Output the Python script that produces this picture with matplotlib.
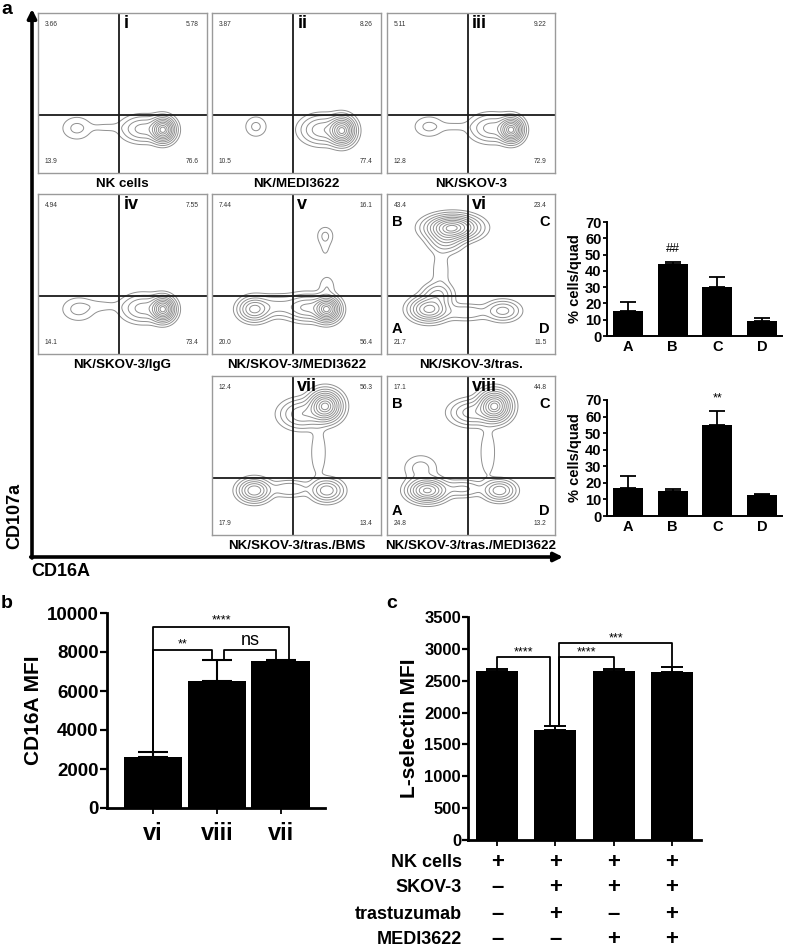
import numpy as np
import matplotlib
matplotlib.use('Agg')
import matplotlib.pyplot as plt
import matplotlib.transforms as mtrans

plt.rcParams['font.family'] = ['Liberation Sans', 'DejaVu Sans']
plt.rcParams['font.weight'] = 'bold'
plt.rcParams['axes.labelweight'] = 'bold'

W, H = 787, 951

# ---- panel a: flow plots ----
names = ['NK cells', 'NK/MEDI3622', 'NK/SKOV-3',
         'NK/SKOV-3/IgG', 'NK/SKOV-3/MEDI3622', 'NK/SKOV-3/tras.',
         'NK/SKOV-3/tras./BMS', 'NK/SKOV-3/tras./MEDI3622']
numerals = ['i', 'ii', 'iii', 'iv', 'v', 'vi', 'vii', 'viii']
# quadrant percentages: upper-left, upper-right, lower-left, lower-right
quad_pct = [['3.66', '5.78', '13.9', '76.6'],
            ['3.87', '8.26', '10.5', '77.4'],
            ['5.11', '9.22', '12.8', '72.9'],
            ['4.94', '7.55', '14.1', '73.4'],
            ['7.44', '16.1', '20.0', '56.4'],
            ['43.4', '23.4', '21.7', '11.5'],
            ['12.4', '56.3', '17.9', '13.4'],
            ['17.1', '44.8', '24.8', '13.2']]
# populations per plot: (x, y, sx, sy, weight), in plot fractions
pops = [
    [(0.74, 0.27, 0.037, 0.04, 1.0), (0.62, 0.275, 0.07, 0.045, 0.22),
     (0.23, 0.28, 0.055, 0.045, 0.065), (0.40, 0.285, 0.06, 0.02, 0.03)],
    [(0.77, 0.265, 0.04, 0.045, 1.0), (0.65, 0.27, 0.07, 0.05, 0.25),
     (0.26, 0.29, 0.04, 0.04, 0.065)],
    [(0.74, 0.27, 0.037, 0.04, 1.0), (0.62, 0.28, 0.07, 0.048, 0.22),
     (0.25, 0.29, 0.055, 0.04, 0.065), (0.40, 0.29, 0.06, 0.02, 0.03)],
    [(0.74, 0.28, 0.037, 0.04, 1.0), (0.62, 0.285, 0.07, 0.048, 0.22),
     (0.24, 0.28, 0.06, 0.045, 0.07), (0.38, 0.30, 0.07, 0.025, 0.03)],
    [(0.68, 0.28, 0.04, 0.04, 1.0), (0.56, 0.29, 0.07, 0.045, 0.3), (0.25, 0.28, 0.05, 0.04, 0.45),
     (0.38, 0.30, 0.07, 0.04, 0.12), (0.68, 0.42, 0.03, 0.045, 0.05), (0.67, 0.74, 0.03, 0.035, 0.06),
     (0.67, 0.66, 0.025, 0.05, 0.025)],
    [(0.39, 0.79, 0.08, 0.04, 1.0), (0.35, 0.72, 0.055, 0.045, 0.25), (0.32, 0.52, 0.035, 0.09, 0.045),
     (0.25, 0.28, 0.06, 0.04, 0.6), (0.30, 0.37, 0.05, 0.04, 0.2), (0.69, 0.27, 0.055, 0.035, 0.22),
     (0.47, 0.26, 0.08, 0.03, 0.1)],
    [(0.67, 0.81, 0.05, 0.05, 1.0), (0.53, 0.76, 0.07, 0.05, 0.25), (0.63, 0.52, 0.03, 0.1, 0.05),
     (0.25, 0.28, 0.05, 0.038, 0.5), (0.68, 0.28, 0.05, 0.038, 0.35), (0.46, 0.29, 0.07, 0.03, 0.1)],
    [(0.64, 0.81, 0.05, 0.05, 1.0), (0.50, 0.77, 0.07, 0.045, 0.22), (0.60, 0.52, 0.03, 0.1, 0.05),
     (0.20, 0.42, 0.06, 0.05, 0.07), (0.24, 0.28, 0.06, 0.038, 0.7), (0.67, 0.28, 0.05, 0.035, 0.35),
     (0.45, 0.29, 0.07, 0.03, 0.12)],
]
contour_levels = [0.02, 0.05, 0.1, 0.17, 0.26, 0.37, 0.5, 0.64, 0.8, 0.92]
gate_x, gate_y = 0.48, 0.36
quad_letter_plots = [5, 7]

# quadrant bar charts
quads = ['A', 'B', 'C', 'D']
quad_vi = [15.5, 44.5, 30.0, 9.0]
quad_vi_err = [5.5, 1.0, 6.5, 2.0]
quad_viii = [17.0, 15.0, 55.0, 12.5]
quad_viii_err = [7.0, 1.5, 8.5, 0.5]

# ---- panel b ----
b_groups = ['vi', 'viii', 'vii']
b_mfi = [2600, 6500, 7550]
b_err = [250, 1100, 50]

# ---- panel c ----
c_mfi = [2650, 1720, 2650, 2630]
c_err = [40, 70, 40, 80]
c_rows = ['NK cells', 'SKOV-3', 'trastuzumab', 'MEDI3622']
c_table = [['+', '+', '+', '+'],
           ['\u2013', '+', '+', '+'],
           ['\u2013', '+', '\u2013', '+'],
           ['\u2013', '\u2013', '+', '+']]

fig = plt.figure(figsize=(W / 100, H / 100), dpi=100)


def box(x0, y0, x1, y1):
    return fig.add_axes([x0 / W, 1 - y1 / H, (x1 - x0) / W, (y1 - y0) / H])


bg = box(0, 0, W, H)
bg.set_xlim(0, W)
bg.set_ylim(H, 0)
bg.axis('off')

# axis arrows
bg.annotate('', xy=(32, 9), xytext=(32, 558),
            arrowprops=dict(arrowstyle='-|>', lw=2.6, color='black', mutation_scale=13, shrinkA=0, shrinkB=0))
bg.annotate('', xy=(563, 557), xytext=(30.7, 557),
            arrowprops=dict(arrowstyle='-|>', lw=2.6, color='black', mutation_scale=13, shrinkA=0, shrinkB=0))
bg.text(15, 516, 'CD107a', rotation=90, ha='center', va='center', fontsize=13)
bg.text(31, 571, 'CD16A', ha='left', va='center', fontsize=13)
bg.text(1, 9, 'a', ha='left', va='center', fontsize=14)
bg.text(1, 604, 'b', ha='left', va='center', fontsize=14)
bg.text(386, 604, 'c', ha='left', va='center', fontsize=14)

cols = [(38, 207), (212, 381), (387, 555)]
rows = [(13, 173), (194, 354), (376, 535)]
slots = [(0, 0), (0, 1), (0, 2), (1, 0), (1, 1), (1, 2), (2, 1), (2, 2)]

gx, gy = np.meshgrid(np.linspace(0, 1, 300), np.linspace(0, 1, 300))
for k, (r, c) in enumerate(slots):
    x0, x1 = cols[c]
    y0, y1 = rows[r]
    ax = box(x0, y0, x1, y1)
    z = np.zeros_like(gx)
    for (cx, cy, sx, sy, w) in pops[k]:
        z += w * np.exp(-((gx - cx) ** 2 / (2 * sx ** 2) + (gy - cy) ** 2 / (2 * sy ** 2)))
    ax.contour(gx, gy, z, levels=np.array(contour_levels) * z.max(), colors='#909090', linewidths=0.7)
    ax.axvline(gate_x, color='#1a1a1a', lw=1.3)
    ax.axhline(gate_y, color='#1a1a1a', lw=1.3)
    ax.set_xlim(0, 1)
    ax.set_ylim(0, 1)
    ax.set_xticks([])
    ax.set_yticks([])
    for s in ax.spines.values():
        s.set_color('#9a9a9a')
        s.set_linewidth(1.0)
    ul, ur, ll, lr = quad_pct[k]
    small = dict(fontsize=4.8, color='#333333', fontweight='normal')
    ax.text(0.04, 0.95, ul, ha='left', va='top', transform=ax.transAxes, **small)
    ax.text(0.95, 0.95, ur, ha='right', va='top', transform=ax.transAxes, **small)
    ax.text(0.04, 0.05, ll, ha='left', va='bottom', transform=ax.transAxes, **small)
    ax.text(0.95, 0.05, lr, ha='right', va='bottom', transform=ax.transAxes, **small)
    ax.text(gate_x + 0.025, 0.985, numerals[k], ha='left', va='top', fontsize=13, transform=ax.transAxes)
    if k in quad_letter_plots:
        ax.text(0.03, 0.87, 'B', ha='left', va='top', fontsize=10.5, transform=ax.transAxes)
        ax.text(0.97, 0.87, 'C', ha='right', va='top', fontsize=10.5, transform=ax.transAxes)
        ax.text(0.03, 0.11, 'A', ha='left', va='bottom', fontsize=10.5, transform=ax.transAxes)
        ax.text(0.97, 0.11, 'D', ha='right', va='bottom', fontsize=10.5, transform=ax.transAxes)
    bg.text((x0 + x1) / 2, y1 + 11, names[k], ha='center', va='center', fontsize=9.6)


def style(ax, lw=1.6):
    ax.spines['top'].set_visible(False)
    ax.spines['right'].set_visible(False)
    ax.spines['left'].set_linewidth(lw)
    ax.spines['bottom'].set_linewidth(lw)


# quadrant bar charts
for (y0, y1), vals, errs, mark in [((222, 336), quad_vi, quad_vi_err, (1, '##')),
                                     ((400, 516), quad_viii, quad_viii_err, (2, '**'))]:
    ax = box(607, y0, 782, y1)
    xs = np.arange(len(quads))
    ax.bar(xs, vals, width=0.67, color='black',
           yerr=[np.zeros(len(vals)), errs], capsize=6,
           error_kw=dict(lw=1.3, capthick=1.3, ecolor='black'))
    ax.set_xlim(-0.47, 3.45)
    ax.set_ylim(0, 70)
    ax.set_yticks(range(0, 71, 10))
    ax.set_xticks(xs)
    ax.set_xticklabels(quads)
    ax.tick_params(axis='x', length=0, labelsize=10.5, pad=3)
    ax.tick_params(axis='y', length=3, width=1.3, labelsize=10.5, pad=1)
    ax.set_ylabel('% cells/quad', fontsize=10.5, labelpad=2)
    style(ax, 1.4)
    i, s = mark
    ax.text(i, vals[i] + errs[i] + 4, s, ha='center', va='bottom', fontsize=9, fontweight='normal')

# panel b
ax = box(107, 613, 325, 808)
xs = np.arange(len(b_groups))
ax.bar(xs, b_mfi, width=0.92, color='black', yerr=[np.zeros(3), b_err], capsize=11,
       error_kw=dict(lw=1.5, capthick=1.5, ecolor='black'))
ax.set_xlim(-0.72, 2.69)
ax.set_ylim(0, 10000)
ax.set_yticks(range(0, 10001, 2000))
ax.set_xticks(xs)
ax.set_xticklabels(b_groups)
ax.tick_params(axis='x', length=4, width=1.3, labelsize=17, pad=6)
ax.tick_params(axis='y', length=5, width=1.6, labelsize=13.5, pad=1)
ax.set_ylabel('CD16A MFI', fontsize=15, labelpad=3)
style(ax, 2.0)


def bracket(ax, xa, xb, h, ya, yb, label, size, off):
    ax.plot([xa, xa, xb, xb], [ya, h, h, yb], color='black', lw=1.3, clip_on=False)
    ax.text((xa + xb) / 2, h + off, label, ha='center', va='bottom', fontsize=size, fontweight='normal')


top_b = [v + e for v, e in zip(b_mfi, b_err)]
bracket(ax, 0, 2.13, 9300, top_b[0], top_b[2], '****', 9, 0)
bracket(ax, 0, 0.92, 8100, top_b[0], top_b[1], '**', 9, 0)
bracket(ax, 1.11, 1.92, 8100, top_b[1], top_b[2], 'ns', 13, 50)

# panel c
ax = box(468, 617, 701, 840)
xs = np.arange(len(c_mfi))
ax.bar(xs, c_mfi, width=0.72, color='black', yerr=[np.zeros(4), c_err], capsize=8,
       error_kw=dict(lw=1.4, capthick=1.4, ecolor='black'))
ax.set_xlim(-0.5, 3.5)
ax.set_ylim(0, 3500)
ax.set_yticks(range(0, 3501, 500))
ax.set_xticks(xs)
ax.set_xticklabels([])
ax.tick_params(axis='x', length=4, width=1.3)
ax.tick_params(axis='y', length=4, width=1.6, labelsize=12, pad=1)
ax.set_ylabel('L-selectin MFI', fontsize=15, labelpad=4)
style(ax, 2.0)
top_c = [v + e for v, e in zip(c_mfi, c_err)]
bracket(ax, 0, 0.91, 2870, top_c[0], top_c[1], '****', 9, -20)
bracket(ax, 1.07, 2, 2870, top_c[1], top_c[2], '****', 9, -20)
bracket(ax, 1.07, 3, 3090, top_c[1], top_c[3], '***', 9, -20)

tr = mtrans.blended_transform_factory(ax.transData, ax.transAxes)
row_y = [-0.099, -0.215, -0.336, -0.448]
for lab, yy, marks in zip(c_rows, row_y, c_table):
    ax.text(-0.026, yy, lab, ha='right', va='center', fontsize=13, transform=ax.transAxes)
    for j, m in enumerate(marks):
        ax.text(j, yy, m, ha='center', va='center', fontsize=16, transform=tr)

fig.savefig('out.png', dpi=100)
